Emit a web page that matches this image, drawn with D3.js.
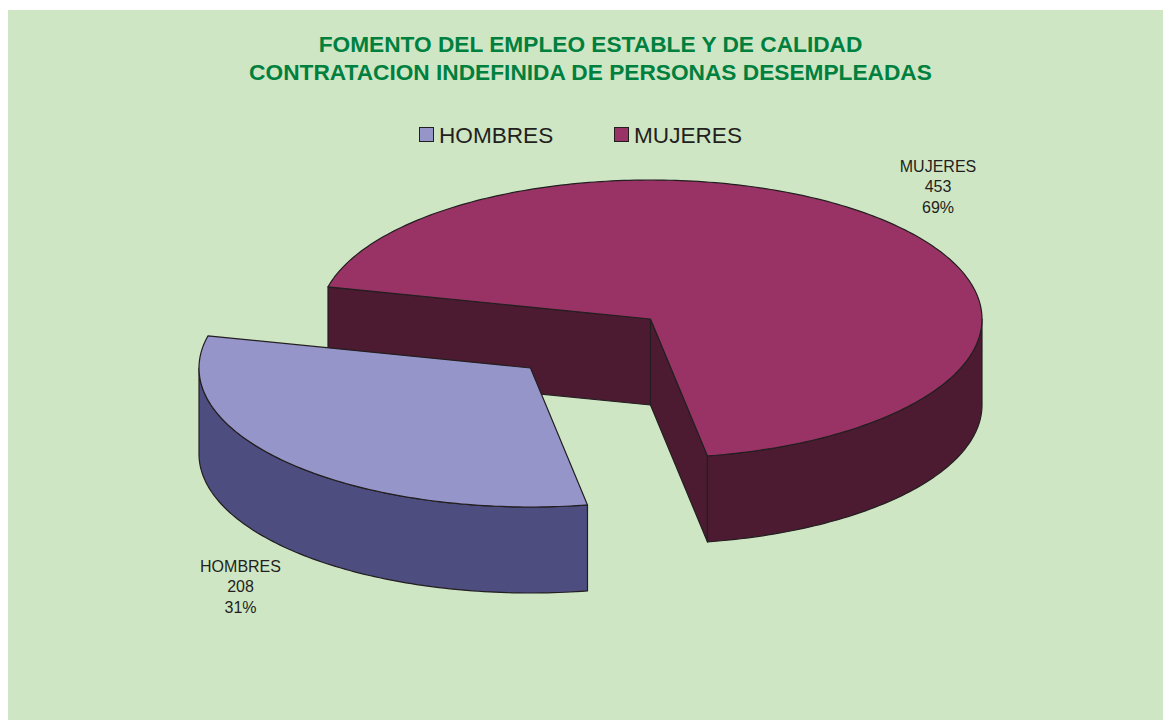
<!DOCTYPE html>
<html><head><meta charset="utf-8">
<script src="https://cdn.jsdelivr.net/npm/d3@7/dist/d3.min.js"></script>
<style>html,body{margin:0;padding:0;background:#fff}svg{display:block}text{font-family:"Liberation Sans",Arial,sans-serif}</style>
</head><body><div id="c"></div>
<script>
const titleLines=["FOMENTO DEL EMPLEO ESTABLE Y DE CALIDAD","CONTRATACION INDEFINIDA DE PERSONAS DESEMPLEADAS"];
const categories=["HOMBRES","MUJERES"];
const values=[208,453];
const percentLabels=["31%","69%"];
const topColors=["#9595c9","#993366"];
const wallColors=["#4d4d80","#4d1b31"];
const W=1163,H=720,bg="#cfe6c4",ink="#231f20";
const svg=d3.select("#c").append("svg").attr("width",W).attr("height",H);
svg.append("rect").attr("x",8).attr("y",10).attr("width",W-8).attr("height",H-10).attr("fill",bg);
svg.selectAll("text.t").data(titleLines).join("text").attr("class","t")
 .attr("x",590.5).attr("y",(d,i)=>52+i*27.5).attr("text-anchor","middle")
 .attr("font-size",22.7).attr("font-weight","bold").attr("fill","#00803f").text(d=>d);
// legend
const legX=[419,614];
const leg=svg.selectAll("g.l").data(categories).join("g").attr("class","l");
leg.append("rect").attr("x",(d,i)=>legX[i]+.5).attr("y",127.5).attr("width",14).attr("height",14)
 .attr("fill",(d,i)=>topColors[i]).attr("stroke",ink).attr("stroke-width",1);
leg.append("text").attr("x",(d,i)=>legX[i]+20).attr("y",143).attr("font-size",22.6).attr("fill",ink).text(d=>d);
// pie
const deg=Math.PI/180;
const pie=d3.pie().sort(null).startAngle(170.1*deg).endAngle((170.1+360)*deg);
const arcs=pie(values);
const cx=650.5,cy=319,rx=331.5,ry=139,depth=86;
const offsets=[[-120,49],[0,0]];
const X=d3.scaleLinear().domain([-1,1]).range([-rx,rx]);
const Y=d3.scaleLinear().domain([-1,1]).range([-ry,ry]);
const line=d3.line();
const pt=(a,r,o,z)=>[cx+o[0]+X(r*Math.sin(a)),cy+o[1]+Y(-r*Math.cos(a))+z];
function arcPts(a0,a1,o,z){const n=Math.max(2,Math.ceil(Math.abs(a1-a0)/(1*deg)));
 return d3.range(n+1).map(i=>pt(a0+(a1-a0)*i/n,1,o,z));}
function poly(pts,fill){svg.append("path").attr("d",line(pts)+"Z").attr("fill",fill).attr("stroke",ink).attr("stroke-width",1.2).attr("stroke-linejoin","round");}
function drawSlice(a,i){
 const o=offsets[i],s=a.startAngle,e=a.endAngle,wall=wallColors[i];
 const C=pt(0,0,o,0),Cb=pt(0,0,o,depth);
 const faces=[[s,pt(s,1,o,0),pt(s,1,o,depth)],[e,pt(e,1,o,0),pt(e,1,o,depth)]];
 faces.forEach(f=>{ if(i===1) poly([C,f[1],f[2],Cb],wall); });
 const ranges=[[90*deg,270*deg],[450*deg,630*deg]];
 ranges.forEach(r=>{const w0=Math.max(s,r[0]),w1=Math.min(e,r[1]);
  if(w1>w0){const top=arcPts(w0,w1,o,0),bot=arcPts(w0,w1,o,depth).reverse();poly(top.concat(bot),wall);}});
 poly([C].concat(arcPts(s,e,o,0)),topColors[i]);
}
drawSlice(arcs[1],1);drawSlice(arcs[0],0);
// data labels
const labelPos=[[240.5,572],[938,172]];
categories.forEach((c,i)=>{[c,String(values[i]),percentLabels[i]].forEach((t,j)=>{
 svg.append("text").attr("x",labelPos[i][0]).attr("y",labelPos[i][1]+j*20.3).attr("text-anchor","middle")
  .attr("font-size",16).attr("fill",ink).text(t);});});
</script></body></html>
